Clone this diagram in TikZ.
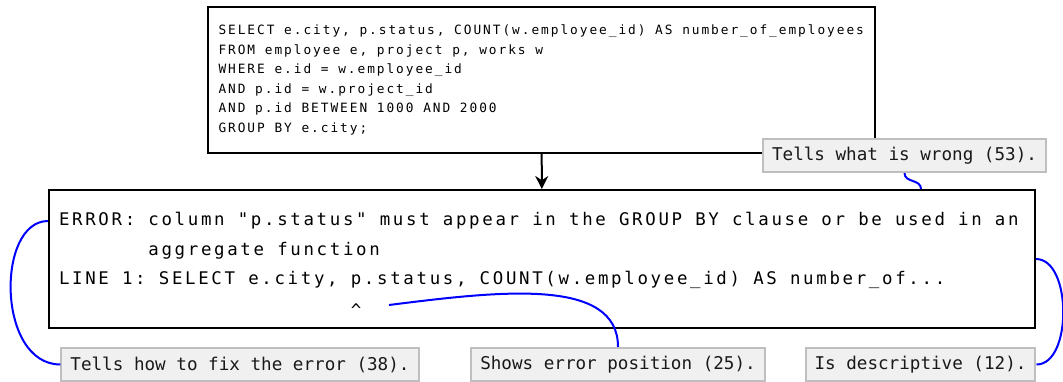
\documentclass[tikz,border=0pt]{standalone}
\usepackage{fontspec}
\usetikzlibrary{arrows.meta}

\newfontfamily\codefont[LetterSpace=15.3,Ligatures=TeXOff]{DejaVu Sans Mono}
\newfontfamily\errfont[LetterSpace=15.4,Ligatures=TeXOff]{DejaVu Sans Mono}
\newfontfamily\notefont[Ligatures=TeXOff]{DejaVu Sans Mono}
% spaces as wide as one (tracked) letter
\newcommand\monospacing{\setbox0\hbox{MM}\setbox2\hbox{M}%
  \spaceskip=\dimexpr\wd0-\wd2\relax \xspaceskip=\spaceskip}

\begin{document}
\begin{tikzpicture}[x=1pt,y=1pt,
  box/.style={draw,line width=1pt,align=left},
  note/.style={draw=gray!50,fill=gray!12,line width=1pt,minimum height=16.5pt,
    inner xsep=4.5pt,inner ysep=0pt,text=black!90,
    font=\notefont\fontsize{8.8}{10}\selectfont},
  link/.style={blue,line width=1pt}]
\useasboundingbox (0,0) rectangle (531.5,190.5);

% the query
\node[box,text width=323pt,inner xsep=5.25pt,minimum height=73pt,
  font=\codefont\fontsize{6.4}{9.8}\selectfont] at (270.75,150.5) (query)
  {\monospacing
   SELECT e.city, p.status, COUNT(w.employee\_id) AS number\_of\_employees\\
   FROM employee e, project p, works w\\
   WHERE e.id = w.employee\_id\\
   AND p.id = w.project\_id\\
   AND p.id BETWEEN 1000 AND 2000\\
   GROUP BY e.city;};

% the message it gives
\node[box,text width=483pt,inner xsep=5pt,minimum height=69pt,
  font=\errfont\fontsize{8.7}{14.7}\selectfont] at (271,61) (error)
  {\monospacing\rule{0pt}{12.6pt}%
   ERROR: column "p.status" must appear in the GROUP BY clause or be used in an\\
   \phantom{ERROR: }aggregate function\\
   LINE 1: SELECT e.city, p.status, COUNT(w.employee\_id) AS number\_of...\\
   \phantom{LINE 1: SELECT e.city, }\raisebox{-1.5pt}{\textasciicircum}};

\draw[line width=1pt,-{Stealth[length=6.5pt,width=6.5pt]}] (query) -- (error);

\node[note] at (452.25,112.75) (wrong) {Tells what is wrong (53).};
\node[note] at (120,8.25) (fix) {Tells how to fix the error (38).};
\node[note] at (309,8.25) (position) {Shows error position (25).};
\node[note] at (460.25,8.25) (descr) {Is descriptive (12).};

\coordinate (errmsg) at ([yshift=-16pt]error.north west);
\coordinate (caret) at (194.5,38);
\coordinate (notch) at ([xshift=189.5pt]error.north);

\draw[link] (wrong.south) .. controls +(0,-5) and +(0,5) .. (notch);
\draw[link] (errmsg) .. controls +(-26,0) and +(-32,0) .. (fix.west);
\draw[link] (caret) .. controls (250,45) and (309,52) .. (position.north);
\draw[link] (error.east) .. controls +(18,0) and +(18,0) .. (descr.east);
\end{tikzpicture}
\end{document}
